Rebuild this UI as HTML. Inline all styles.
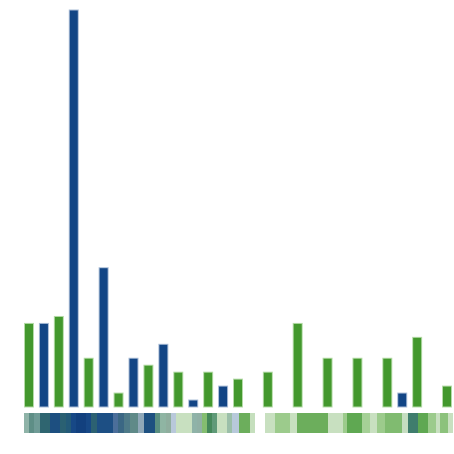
<!DOCTYPE html>
<html><head><meta charset="utf-8"><style>
html,body{margin:0;padding:0;background:#fff;width:454px;height:454px;overflow:hidden;font-family:"Liberation Sans",sans-serif}
</style></head><body>
<svg id="chart" width="454" height="454" viewBox="0 0 454 454" xmlns="http://www.w3.org/2000/svg">
<g id="bars"></g>
<g id="strip"></g>
</svg>
<script>
const values = [12,12,13,57,7,20,2,7,6,9,5,1,5,3,4,0,5,0,12,0,7,0,7,0,7,2,10,0,3];
const groups = ["g","b","g","b","g","b","g","b","g","b","g","b","g","b","g","g","g","g","g","g","g","g","g","g","g","b","g","g","g"];
const stripStarts = [24,29,34,40,50,60,66,71,76,86,91,97,113,118,124,130,138,144,155,160,166,171,176,192,197,202,207,212,217,227,232,239,250,265,275,290,297,328,343,347,362,370,377,385,402,408,418,428,436,440,448];
const stripEnds   = [29,34,40,50,60,66,71,76,86,91,97,113,118,124,130,138,144,155,160,166,171,176,192,197,202,207,212,217,227,232,239,250,255,275,290,297,328,343,347,362,370,377,385,402,408,418,428,436,440,448,453];
const stripColors = ["#8fb3a8","#5e8e86","#6f9b96","#2f6570","#1d4f80","#2a6072","#235a78","#174886","#12407e","#174886","#2c6172","#1d4f84","#4b6e9a","#3b6784","#4e7a88","#5f8a88","#8fa8b8","#1d5080","#5a8f80","#8fb5a3","#8fae9e","#b8c8da","#c8e0c0","#8fb3a8","#90b0a5","#84bd70","#44885a","#5f9a78","#c8e0c0","#9bbfa9","#b7c9da","#6cae5c","#c5dfbd","#c8e0c0","#9ccb8c","#c8e0c0","#6cae5c","#c8e0c0","#9ccb8c","#5fa852","#a5d096","#c8e0c0","#9ccb8c","#80bb70","#c5ddc0","#3f7d6d","#5fa852","#9ccb8c","#c8e0c0","#8cc27c","#c8e0c0"];

const NS="http://www.w3.org/2000/svg";
const x0=24, step=(442-24)/28, bw=10, base=407, pxPerUnit=397/57;
const xs=i=>x0+i*step;
const ys=v=>base-v*pxPerUnit;
const bars=document.getElementById('bars');
values.forEach((v,i)=>{
  if(v<=0) return;
  const r=document.createElementNS(NS,'rect');
  const blue=groups[i]==="b";
  r.setAttribute('x',xs(i)+0.5);
  r.setAttribute('y',ys(v));
  r.setAttribute('width',bw-1);
  r.setAttribute('height',base-ys(v));
  r.setAttribute('fill',blue?'#124585':'#43982d');
  r.setAttribute('stroke',blue?'#a9bcd6':'#b5dba8');
  r.setAttribute('stroke-width','1');
  
  
  bars.appendChild(r);
});
const strip=document.getElementById('strip');
stripStarts.forEach((s,i)=>{
  const r=document.createElementNS(NS,'rect');
  r.setAttribute('x',s);
  r.setAttribute('y',413);
  r.setAttribute('width',stripEnds[i]-s);
  r.setAttribute('height',20);
  r.setAttribute('fill',stripColors[i]);
  
  
  strip.appendChild(r);
});
</script>
</body></html>
